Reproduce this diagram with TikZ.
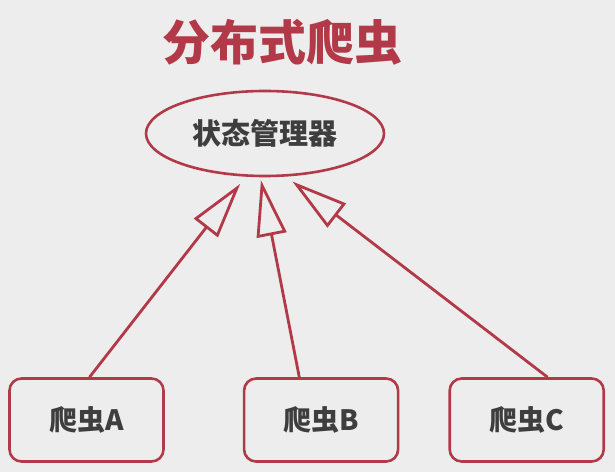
\documentclass[tikz,border=0pt]{standalone}
\usepackage{fontspec}
\usepackage{xcolor}
\usepackage{tikz}
\usetikzlibrary{shapes,arrows.meta,positioning}
\newfontfamily\cjk{Noto Sans CJK SC}
\definecolor{crawlred}{RGB}{178,58,72}
\definecolor{crawlgray}{RGB}{62,62,62}
\definecolor{crawlbg}{RGB}{237,237,237}
\tikzset{manager node/.style={ellipse,draw=crawlred,fill=crawlbg,line width=2.6pt,
            minimum width=238pt,minimum height=85pt,inner sep=0pt,
            font=\cjk\bfseries\fontsize{29pt}{29pt}\selectfont,text=crawlgray},
         crawler node/.style={rectangle,rounded corners=12pt,draw=crawlred,fill=crawlbg,
            line width=2.6pt,minimum width=154pt,minimum height=83pt,inner sep=0pt,
            font=\cjk\bfseries\fontsize{28pt}{28pt}\selectfont,text=crawlgray},
         report line/.style={draw=crawlred,line width=2.8pt,
            -{Triangle[open,length=56pt,width=30pt]}},
            }

\begin{document}
\begin{tikzpicture}[x=1pt,y=1pt]

    \useasboundingbox[fill=crawlbg] (0,0) rectangle (615,472);

    \node[text=crawlred,font=\cjk\bfseries\fontsize{48pt}{48pt}\selectfont] (title) at (282,430) {分布式爬虫};
    \node[manager node] (state) at (265,338.5) {状态管理器};

    \node[crawler node] (A) at (86.5,52) {爬虫A};
    \node[crawler node] (B) [right = 78pt of A] {爬虫B};
    \node[crawler node] (C) [right = 49pt of B] {爬虫C};

    \path
    (A.86) edge [report line, shorten >=9pt] (state.246)
    (B.117) edge [report line, shorten >=3pt] (state.264)
    (C.64) edge [report line, shorten >=8pt] (state.296);

\end{tikzpicture}
\end{document}
